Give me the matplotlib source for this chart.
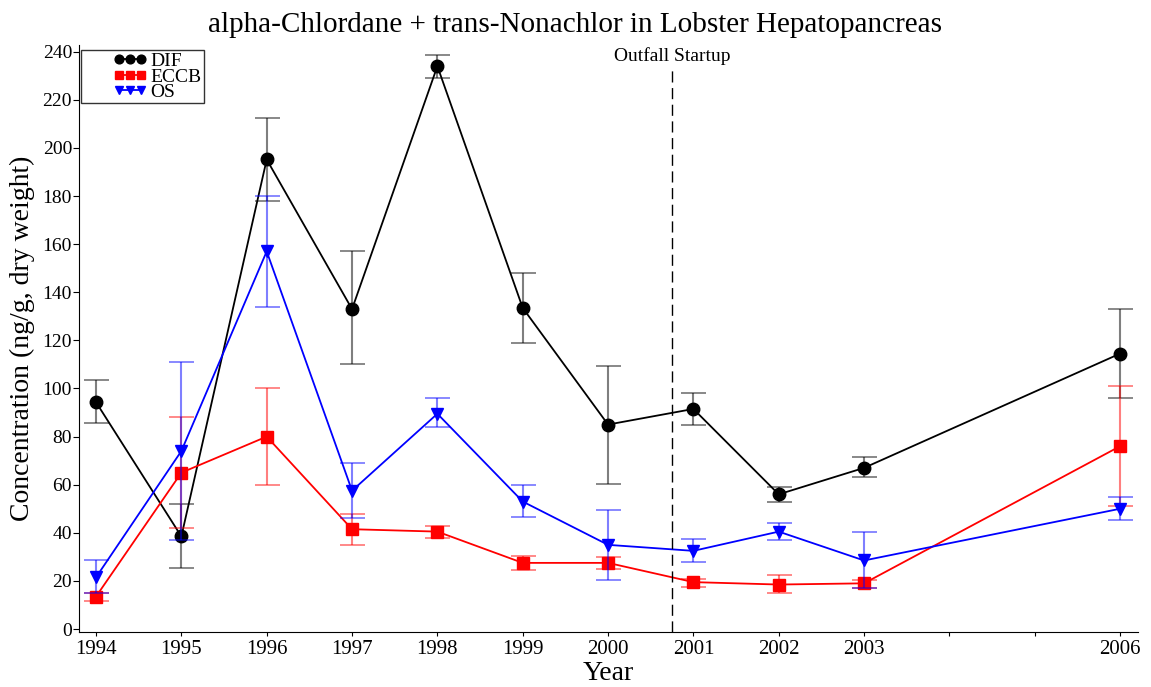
import numpy as np
import matplotlib.pyplot as plt
from matplotlib.legend_handler import HandlerLine2D

plt.rcParams['font.family'] = ['Liberation Serif', 'DejaVu Serif']

years = [1994, 1995, 1996, 1997, 1998, 1999, 2000, 2001, 2002, 2003, 2006]

# mean and error bar ends
dif = [94.3, 38.5, 195.2, 133, 234, 133.5, 85, 91.5, 56, 67, 114.5]
dif_hi = [103.4, 52, 212.5, 157, 238.5, 148, 109.5, 98, 59, 71.5, 133]
dif_lo = [85.5, 25.3, 178, 110, 229, 119, 60.5, 85, 53, 63, 96]

eccb = [13.5, 65, 80, 41.5, 40.5, 27.5, 27.5, 19.5, 18.5, 19, 76]
eccb_hi = [15, 88, 100, 48, 43, 30.5, 30, 21, 22.5, 20.5, 101]
eccb_lo = [11.5, 42, 60, 35, 38, 24.5, 25, 17.5, 15, 17, 51]

os_ = [21.5, 74, 157, 57.5, 89.5, 53, 35, 32.5, 40.5, 28.5, 50]
os_hi = [28.5, 111, 180, 69, 96, 60, 49.5, 37.5, 44, 40.5, 55]
os_lo = [15, 37, 134, 46, 84, 46.5, 20.5, 28, 37, 17, 45.5]

tick_years = list(range(1994, 2007))
tick_labels = [str(y) if y in years else '' for y in tick_years]
outfall = 2000.75


class ShiftedLine(HandlerLine2D):
    # legend handle pushed to the right, leaving blank space on the left
    def create_artists(self, legend, orig_handle, xdescent, ydescent,
                       width, height, fontsize, trans):
        s = 1.55 * fontsize
        return super().create_artists(legend, orig_handle, xdescent - s,
                                      ydescent, width - s, height,
                                      fontsize, trans)


fig, ax = plt.subplots(figsize=(11.51, 6.87), dpi=100)
fig.subplots_adjust(left=0.0686, right=0.9887, top=0.9345, bottom=0.080)

series = [
    ('DIF', dif, dif_hi, dif_lo, 'black', 'o'),
    ('ECCB', eccb, eccb_hi, eccb_lo, 'red', 's'),
    ('OS', os_, os_hi, os_lo, 'blue', 'v'),
]
handles = []
for name, m, hi, lo, c, mk in series:
    m = np.array(m); hi = np.array(hi); lo = np.array(lo)
    ax.errorbar(years, m, yerr=[m - lo, hi - m], fmt='none', ecolor=c,
                alpha=0.5, capsize=9, elinewidth=1.5, capthick=1.3)
    ln, = ax.plot(years, m, color=c, marker=mk, markersize=9, lw=1.3, label=name)
    handles.append(ln)

ax.vlines(outfall, -1.25, 233, color='black', ls=(0, (8, 4)), lw=1)
ax.text(outfall, 238, 'Outfall Startup', ha='center', va='center', fontsize=14)

ax.set_xlim(1993.8, 2006.21)
ax.set_ylim(-1.25, 242.8)
ax.set_xticks(tick_years)
ax.set_xticklabels(tick_labels, fontsize=15)
ax.set_yticks(range(0, 241, 20))
ax.tick_params(axis='y', labelsize=14, length=4, pad=1)
ax.tick_params(axis='x', length=3, pad=3)
for s in ['top', 'right']:
    ax.spines[s].set_visible(False)

ax.set_xlabel('Year', fontsize=20, labelpad=1)
ax.set_ylabel('Concentration (ng/g, dry weight)', fontsize=20)
ax.yaxis.set_label_coords(-0.0415, 0.5)
fig.suptitle('alpha-Chlordane + trans-Nonachlor in Lobster Hepatopancreas',
             fontsize=21, y=0.983)

leg = ax.legend(handles=handles, loc='upper left', numpoints=3, fontsize=14,
                frameon=True, fancybox=False, edgecolor='black', borderpad=0.12,
                labelspacing=-0.12, handlelength=3.25, handletextpad=0.2,
                markerscale=0.7, bbox_to_anchor=(0.002, 0.991),
                borderaxespad=0.0,
                handler_map={h: ShiftedLine() for h in handles})
leg.get_frame().set_linewidth(1)

plt.savefig('out.png', dpi=100)
